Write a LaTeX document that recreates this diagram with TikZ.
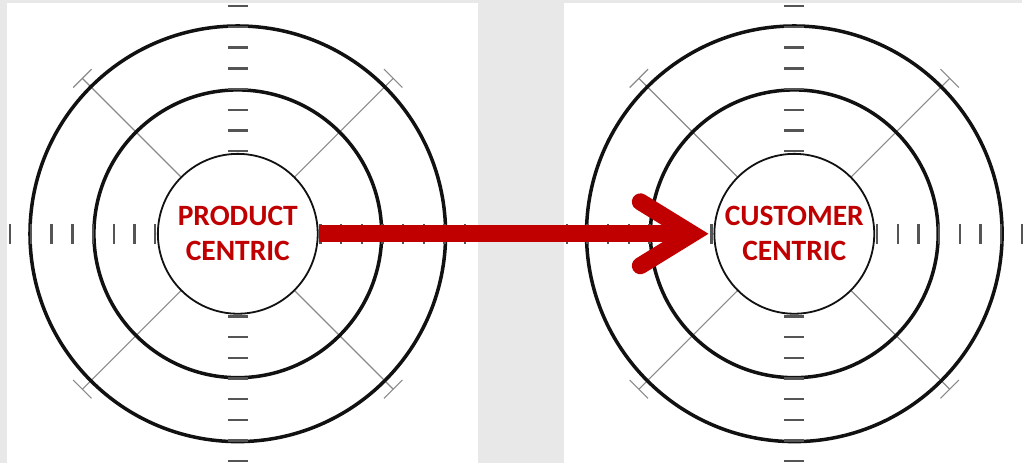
\documentclass[tikz,border=0pt]{standalone}
\usepackage{fontspec}
\newfontfamily\centricfont{Carlito}
\usetikzlibrary{arrows.meta,calc}
\definecolor{TargetRed}{HTML}{C00000}
\definecolor{TargetRing}{HTML}{111111}
\definecolor{TargetTick}{HTML}{555555}
\definecolor{TargetGuide}{HTML}{8A8A8A}
\definecolor{SlideGray}{HTML}{E8E8E8}

\begin{document}
\begin{tikzpicture}[
  x=1pt,y=1pt,
  ring/.style={draw=TargetRing,line width=3.5pt},
  hub/.style={circle,draw=TargetRing,line width=1.8pt,fill=white,
    minimum size=160pt,inner sep=0pt,align=center,text=TargetRed,
    font=\centricfont\bfseries\fontsize{29.5}{35}\selectfont},
  tickmark/.style={draw=TargetTick,line width=2.4pt},
  guide/.style={draw=TargetGuide,line width=1.1pt},
  shiftarrow/.style={draw=TargetRed,line width=17pt,
    -{Straight Barb[length=52pt,width=64pt,line cap=round,line join=miter]}}
]
  % Slide background with the two white picture panels.
  \fill[SlideGray] (0,0) rectangle (1023,463);
  \fill[white] (7,0) rectangle (478,460);
  \fill[white] (564,0) rectangle (1023,460);

  % Two identical targets: guides, rings and axis ticks.
  \foreach \cx in {238,795} {
    \begin{scope}[shift={(\cx,229)}]
      \foreach \a in {45,135,225,315} {
        \draw[guide] (\a:80) -- (\a:220);
        \draw[guide] ($(\a:220)+(\a+90:13)$) -- ($(\a:220)+(\a-90:13)$);
      }
      \draw[ring] (0,0) circle (208);
      \draw[ring] (0,0) circle (144);
      \foreach \k in {4,...,11} {
        \draw[tickmark] (-10,{20.7*\k}) -- (10,{20.7*\k});
        \draw[tickmark] (-10,{-20.7*\k}) -- (10,{-20.7*\k});
        \draw[tickmark] ({20.7*\k},-10) -- ({20.7*\k},10);
        \draw[tickmark] ({-20.7*\k},-10) -- ({-20.7*\k},10);
      }
    \end{scope}
  }

  % Centres.
  \node[hub] (prod) at (238,229) {PRODUCT\\CENTRIC};
  \node[hub] (cust) at (795,229) {CUSTOMER\\CENTRIC};

  % The shift from one focus to the other.
  \draw[shiftarrow] (prod.east) -- ([xshift=-5pt]cust.west);
\end{tikzpicture}
\end{document}
